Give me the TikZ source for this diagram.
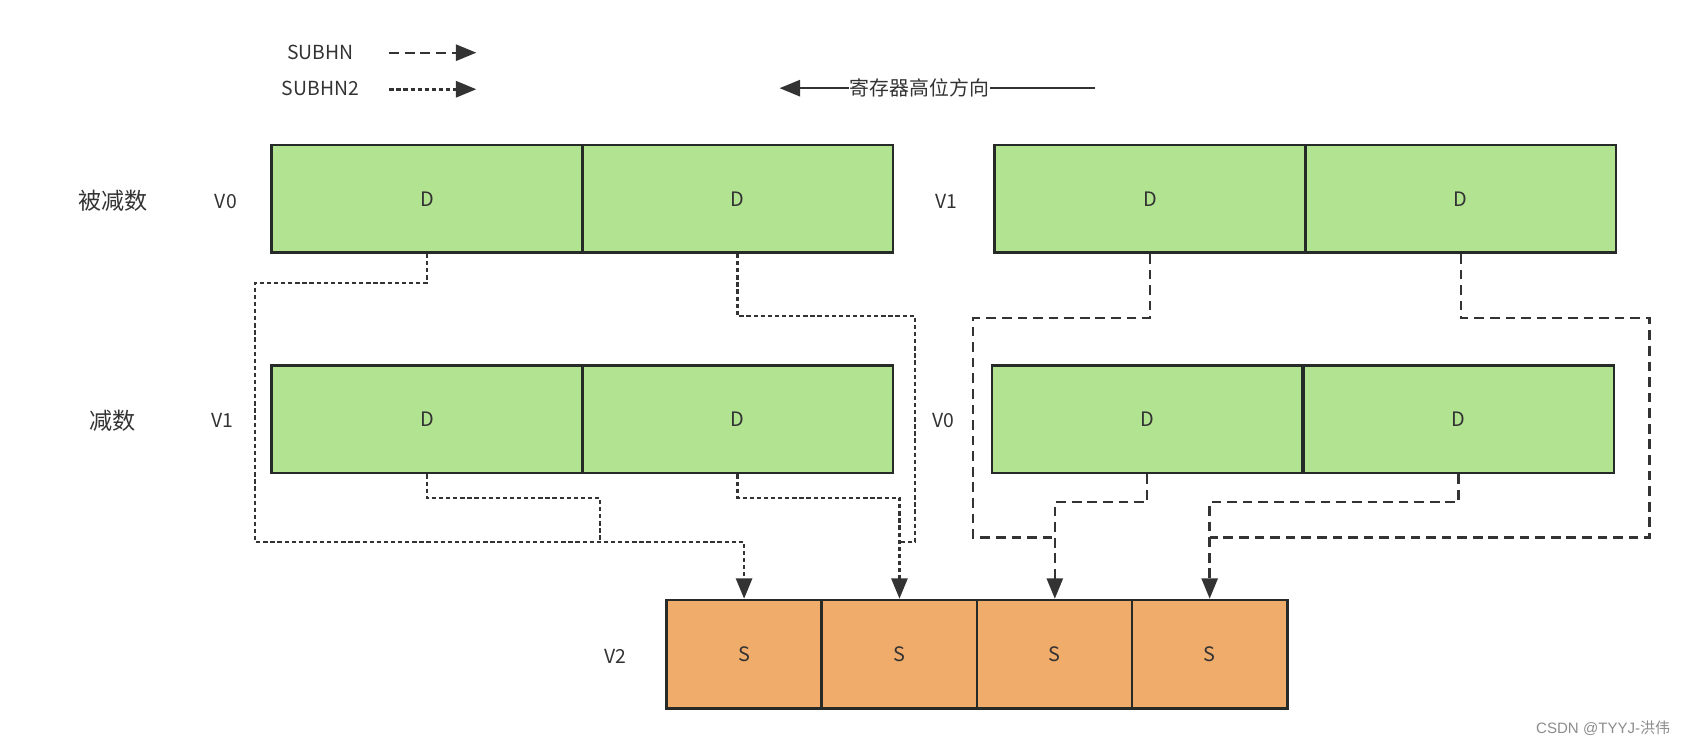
\documentclass[tikz,border=0pt]{standalone}
\usepackage{fontspec}
\setmainfont{Noto Sans CJK SC}
\newfontfamily\wmfont{Liberation Sans}
\usetikzlibrary{arrows.meta}
\definecolor{cellgreen}{HTML}{B2E391}
\definecolor{cellorange}{HTML}{F0AC6B}
\definecolor{ink}{HTML}{262B27}
\definecolor{txt}{HTML}{333333}
\definecolor{wire}{HTML}{333333}
\tikzset{
  cellD/.style={draw=ink, line width=2.4pt, fill=cellgreen, minimum width=289pt, minimum height=100pt, inner sep=0pt, font=\fontsize{18.5}{18.5}\selectfont, text=txt},
  cellS/.style={draw=ink, line width=2.4pt, fill=cellorange, minimum width=144.5pt, minimum height=101pt, inner sep=0pt, font=\fontsize{18.5}{18.5}\selectfont, text=txt},
  lab/.style={font=\fontsize{18}{18}\selectfont, text=txt, inner sep=0pt},
  cnlab/.style={font=\fontsize{21.5}{21.5}\selectfont, text=txt, inner sep=0pt},
  tip/.style={-{Triangle[length=19pt, width=15pt]}},
  dashwire/.style={draw=wire, line width=2.2pt, dash pattern=on 9pt off 5.5pt},
  dotwire/.style={draw=wire, line width=2.4pt, dash pattern=on 4pt off 2.6pt},
}
\begin{document}
\begin{tikzpicture}[x=1pt, y=-1pt]
\useasboundingbox (0,0) rectangle (1568,694);

% legend
\node[lab] (lg1) at (298,49) {SUBHN};
\node[lab] (lg2) at (298,82) {SUBHN2};
\coordinate (lg1a) at (362,49);
\coordinate (lg1b) at (443,49);
\coordinate (lg2a) at (362,83);
\coordinate (lg2b) at (443,83);
\draw[dashwire, tip] (lg1a) -- (lg1b);
\draw[dotwire, tip] (lg2a) -- (lg2b);

% direction arrow
\coordinate (hiR) at (1018,82);
\coordinate (hiL) at (725,82);
\draw[draw=wire, line width=2.2pt, tip] (hiR) -- (hiL);
\node[font=\fontsize{18.5}{18.5}\selectfont, text=txt, fill=white, inner xsep=1pt, inner ysep=2pt] (hitxt) at (855,82) {寄存器高位方向};

% row labels
\node[cnlab] (lbA) at (105,187) {被减数};
\node[lab] (lbV0) at (210,187) {V0};
\node[cnlab] (lbB) at (105,391) {减数};
\node[lab] (lbV1) at (207,391) {V1};
\node[lab] (lbV1r) at (880,187) {V1};
\node[lab] (lbV0r) at (877,391) {V0};
\node[lab] (lbV2) at (572,610) {V2};

% registers
\node[cellD] (a1) at (397,185) {D};
\node[cellD] (a2) at (686,185) {D};
\node[cellD] (b1) at (1069.5,185) {D};
\node[cellD] (b2) at (1358.5,185) {D};
\node[cellD] (c1) at (397,390) {D};
\node[cellD] (c2) at (686,390) {D};
\node[cellD] (d1) at (1067,390) {D};
\node[cellD] (d2) at (1356.5,390) {D};
\node[cellS] (s1) at (692,608.5) {S};
\node[cellS] (s2) at (836.5,608.5) {S};
\node[cellS] (s3) at (981,608.5) {S};
\node[cellS] (s4) at (1125,608.5) {S};

% join points where connectors merge
\coordinate (j1) at (558,504);
\coordinate (j2) at (836.5,504);
\coordinate (j3) at (981,500);
\coordinate (j4) at (1125,500);

% dotted connectors (SUBHN2)
\draw[dotwire, tip] (a1.south) |- (237,263) |- (s1.north |- j1) -- (s1.north);
\draw[dotwire] (c1.south) |- (558,463) -- (j1);
\draw[dotwire, tip] (c2.south) |- (s2.north |- 0,463) -- (s2.north);
\draw[dotwire] (a2.south) |- (851,294) |- (j2);

% dashed connectors (SUBHN)
\draw[dashwire, tip] (d1.south) |- (s3.north |- 0,467) -- (s3.north);
\draw[dashwire] (b1.south) |- (905,296) |- (j3);
\draw[dashwire, tip] (d2.south) |- (s4.north |- 0,467) -- (s4.north);
\draw[dashwire] (b2.south) |- (1534,296) |- (j4);

% watermark
\node[font=\wmfont\fontsize{14}{14}\selectfont, text=black!45, inner sep=0pt] (wm) at (1491,677) {CSDN @TYYJ-\fontspec{Noto Sans CJK SC}洪伟};
\end{tikzpicture}
\end{document}
